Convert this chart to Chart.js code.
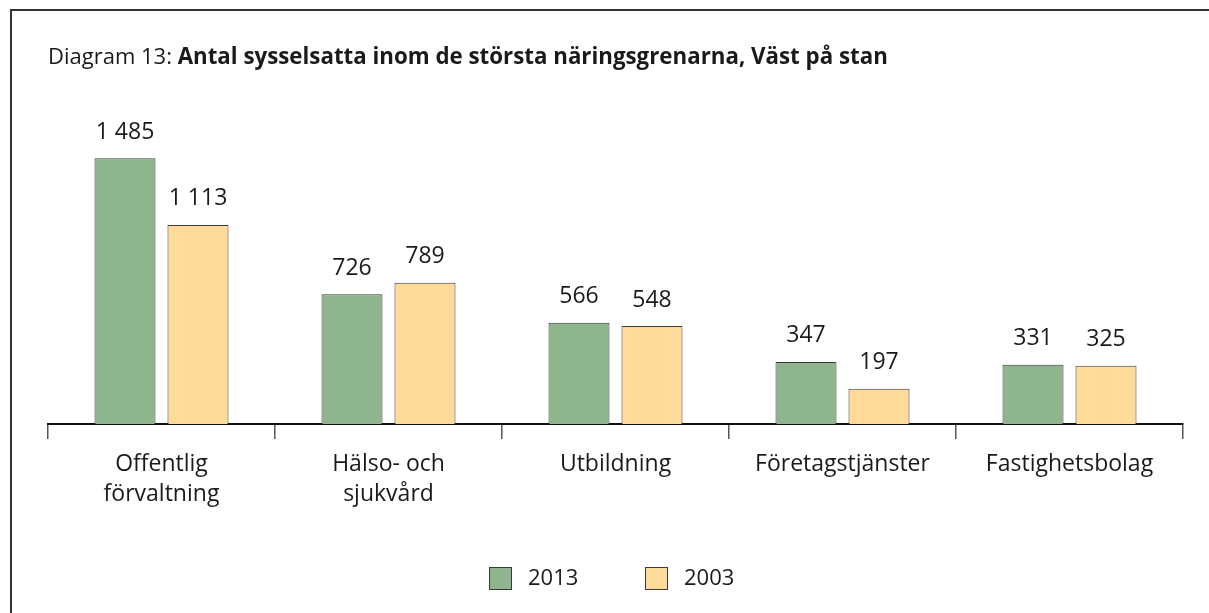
<!DOCTYPE html>
<html><head><meta charset="utf-8">
<script src="https://cdn.jsdelivr.net/npm/chart.js@4.4.1/dist/chart.umd.min.js"></script>
<style>html,body{margin:0;padding:0;background:#fff}canvas{display:block}</style>
</head><body>
<canvas id="c" width="1209" height="613"></canvas>
<script>
const categories = [["Offentlig","förvaltning"],["Hälso- och","sjukvård"],"Utbildning","Företagstjänster","Fastighetsbolag"];
const values2013 = [1485, 726, 566, 347, 331];
const values2003 = [1113, 789, 548, 197, 325];
const seriesNames = ["2013", "2003"];
const titlePrefix = "Diagram 13: ";
const titleBold = "Antal sysselsatta inom de största näringsgrenarna, Väst på stan";

const FONT = "'Open Sans', sans-serif";
const GREEN = "#8fb58f", YELLOW = "#ffda99", EDGE = "#3a3a3a";

function fmt(v){ return String(v).replace(/\B(?=(\d{3})+(?!\d))/g, " "); }

const decor = {
  id: 'decor',
  beforeDraw(chart){
    const ctx = chart.ctx;
    ctx.save();
    ctx.strokeStyle = "#333";
    ctx.lineWidth = 2;
    ctx.beginPath();
    ctx.moveTo(11, 613); ctx.lineTo(11, 10); ctx.lineTo(1209, 10);
    ctx.stroke();
    // title
    ctx.fillStyle = "#1a1a1a";
    ctx.textBaseline = "middle";
    ctx.font = "22px " + FONT;
    ctx.fillText(titlePrefix, 48, 58);
    const w = ctx.measureText(titlePrefix).width;
    ctx.font = "bold 22.3px " + FONT;
    ctx.fillText(titleBold, 48 + w, 58);
    ctx.restore();
  },
  afterDatasetsDraw(chart){
    const ctx = chart.ctx;
    ctx.save();
    ctx.fillStyle = "#1a1a1a";
    ctx.font = "23px " + FONT;
    ctx.textAlign = "center";
    ctx.textBaseline = "middle";
    chart.data.datasets.forEach((ds, di) => {
      chart.getDatasetMeta(di).data.forEach((bar, i) => {
        ctx.fillText(fmt(ds.data[i]), bar.x, bar.y - 26);
      });
    });
    // legend
    const items = [{x:489, tx:528},{x:645, tx:684}];
    ctx.textAlign = "left";
    ctx.font = "22px " + FONT;
    chart.data.datasets.forEach((ds, di) => {
      const it = items[di];
      ctx.fillStyle = ds.backgroundColor;
      ctx.fillRect(it.x, 567, 23, 23);
      ctx.strokeStyle = EDGE; ctx.lineWidth = 1;
      ctx.strokeRect(it.x + 0.5, 567.5, 22, 22);
      ctx.fillStyle = "#1a1a1a";
      ctx.fillText(ds.label, it.tx, 579);
    });
    ctx.restore();
  }
};

new Chart(document.getElementById('c'), {
  type: 'bar',
  data: {
    labels: categories,
    datasets: [
      {label: seriesNames[0], data: values2013, backgroundColor: GREEN, borderColor: EDGE, borderWidth: 1},
      {label: seriesNames[1], data: values2003, backgroundColor: YELLOW, borderColor: EDGE, borderWidth: 1}
    ]
  },
  options: {
    responsive: false,
    animation: false,
    devicePixelRatio: 1,
    categoryPercentage: 0.643,
    barPercentage: 0.836,
    layout: {padding: {left: 48, right: 26, top: 102, bottom: 89}},
    plugins: {legend: {display: false}, tooltip: {enabled: false}},
    scales: {
      x: {
        grid: {display: true, offset: true, drawOnChartArea: false, drawTicks: true, tickLength: 15, color: "#555", lineWidth: 1.5},
        border: {display: true, color: "#111", width: 2},
        ticks: {color: "#1a1a1a", font: {family: FONT, size: 23, lineHeight: 1.3}, padding: 11, maxRotation: 0, autoSkip: false},
        afterFit(s){ s.height = 100; }
      },
      y: {display: false, min: 0, max: 1800}
    }
  },
  plugins: [decor]
});
</script>
</body></html>
